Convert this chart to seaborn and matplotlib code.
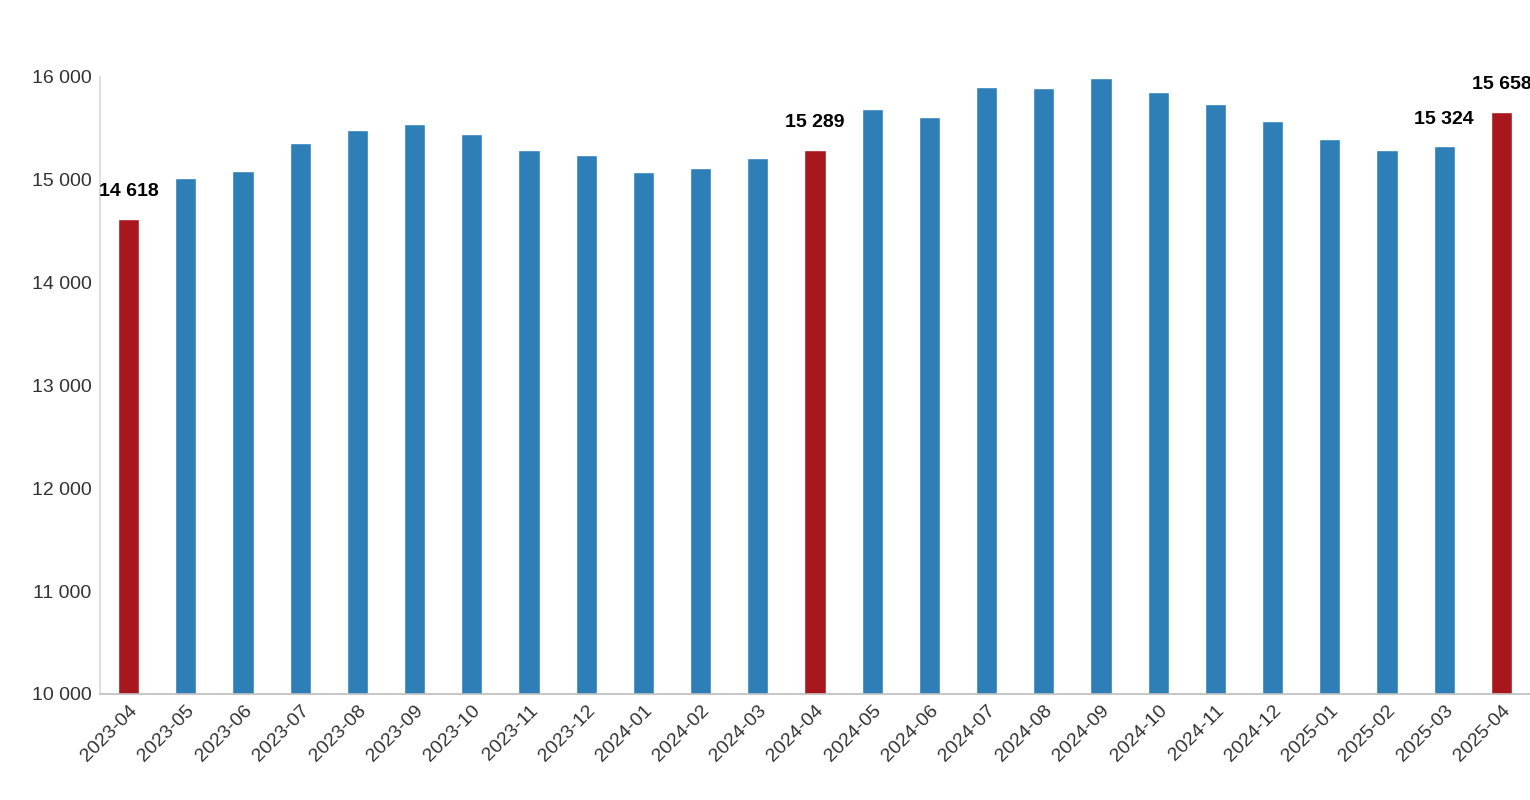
import matplotlib
matplotlib.use("Agg")
import matplotlib.pyplot as plt
import seaborn as sns
import pandas as pd

months = ["2023-04","2023-05","2023-06","2023-07","2023-08","2023-09","2023-10","2023-11","2023-12",
          "2024-01","2024-02","2024-03","2024-04","2024-05","2024-06","2024-07","2024-08","2024-09",
          "2024-10","2024-11","2024-12","2025-01","2025-02","2025-03","2025-04"]
values = [14618,15020,15080,15360,15480,15545,15440,15290,15235,15070,15115,15215,15289,
          15690,15605,15905,15895,15985,15855,15740,15575,15400,15290,15324,15658]
highlight = ["2023-04","2024-04","2025-04"]
labeled = ["2023-04","2024-04","2025-03","2025-04"]

sns.set_theme(style="white")
plt.rcParams['font.family'] = ['Liberation Sans', 'DejaVu Sans']
df = pd.DataFrame({"m": months, "v": values})
df["c"] = ["h" if m in highlight else "n" for m in months]

fig = plt.figure(figsize=(15.3, 8), dpi=100)
ax = fig.add_axes([0.0654, 0.1325, 0.9346, 0.7715])
sns.barplot(data=df, x="m", y="v", hue="c", palette={"h": "#A8171D", "n": "#2E7EB8"},
            width=0.37, legend=False, ax=ax, saturation=1, dodge=False)
ax.set_ylim(10000, 16000)
ax.set_xlim(-0.5, len(months) - 0.5)
ax.set_yticks(range(10000, 16001, 1000))
ax.set_yticklabels([f"{t:,}".replace(",", " ") for t in range(10000, 16001, 1000)], fontsize=14, color="#333333")
ax.set_xticks(range(len(months)))
ax.set_xticklabels(months, rotation=45, ha="right", rotation_mode="anchor", fontsize=14, color="#333333")
ax.set_xlabel(""); ax.set_ylabel("")
for s in ["top", "right"]:
    ax.spines[s].set_visible(False)
ax.spines["left"].set_color("#d9d9d9")
ax.spines["bottom"].set_color("#bfbfbf")
ax.tick_params(axis="both", length=0, pad=6)
for i, (m, v) in enumerate(zip(months, values)):
    if m in labeled:
        ax.text(i, v + 180, f"{v:,}".replace(",", " "), ha="center", va="bottom",
                fontsize=14, fontweight="bold", color="black", clip_on=False)
fig.savefig("out.png", dpi=100)
